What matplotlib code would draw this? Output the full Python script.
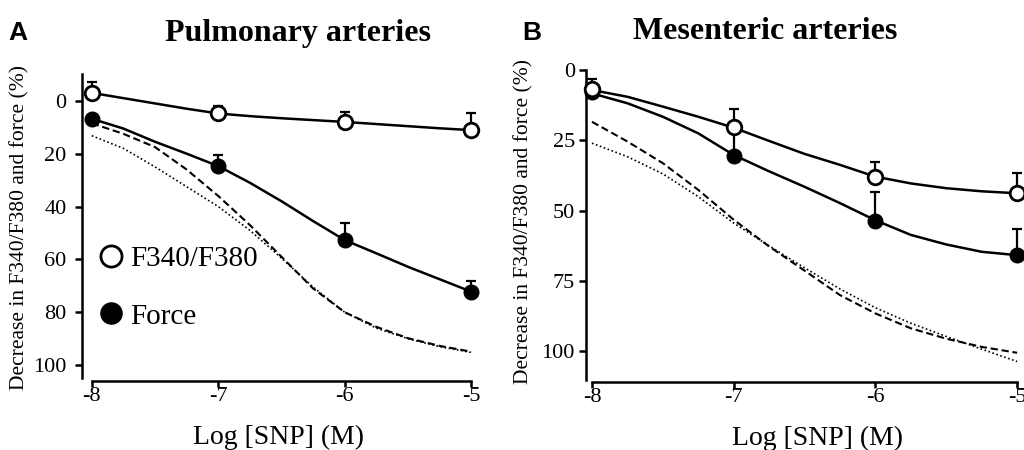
import numpy as np
import matplotlib.pyplot as plt

plt.rcParams['font.family'] = ['Liberation Serif', 'DejaVu Serif']

# measured points (log [SNP])
x_pts = [-8, -7, -6, -5]

# panel A - pulmonary arteries
a_ratio = [-3.0, 4.8, 8.0, 11.1]
a_ratio_err = [4.2, 2.8, 3.8, 6.3]
a_force = [6.8, 24.7, 52.7, 72.2]
a_force_err = [0.0, 4.2, 6.3, 4.2]

# panel B - mesenteric arteries
b_ratio = [6.9, 20.4, 37.9, 43.8]
b_ratio_err = [0.0, 6.4, 5.1, 7.1]
b_force = [7.7, 30.5, 53.6, 65.7]
b_force_err = [4.4, 10.0, 10.4, 9.1]

# fitted curves at 0.25 log-unit steps
x_fit = [-8, -7.75, -7.5, -7.25, -7, -6.75, -6.5, -6.25, -6, -5.75, -5.5, -5.25, -5]
a_ratio_fit = [-3.0, -1.0, 1.0, 3.0, 4.8, 5.8, 6.6, 7.3, 8.0, 8.8, 9.6, 10.4, 11.1]
a_force_fit = [6.8, 10.5, 15.5, 20.0, 24.7, 31.0, 38.0, 45.5, 52.7, 57.7, 62.8, 67.5, 72.2]
a_dash_fit = [8.5, 12.5, 17.5, 26.0, 36.0, 47.0, 59.0, 71.0, 80.0, 85.5, 89.8, 92.7, 94.9]
a_dot_fit = [13.2, 18.0, 25.0, 32.5, 40.0, 49.0, 59.5, 70.5, 80.0, 86.0, 90.0, 93.0, 95.2]

b_ratio_fit = [7.1, 9.5, 13.0, 16.6, 20.5, 25.2, 29.8, 33.7, 37.9, 40.3, 42.0, 43.1, 43.8]
b_force_fit = [8.3, 11.8, 16.6, 22.5, 30.2, 36.0, 41.5, 47.3, 53.4, 58.6, 62.0, 64.6, 65.8]
b_dash_fit = [18.4, 25.4, 33.1, 42.6, 53.2, 62.7, 71.3, 80.0, 86.5, 91.8, 95.5, 98.4, 100.5]
b_dot_fit = [26.0, 30.8, 36.9, 45.0, 54.4, 62.5, 70.3, 77.8, 84.5, 90.0, 94.7, 99.2, 103.6]

a_yticks = [0, 20, 40, 60, 80, 100]
b_yticks = [0, 25, 50, 75, 100]
x_ticks = [-8, -7, -6, -5]
ylabel = 'Decrease in F340/F380 and force (%)'
xlabel = 'Log [SNP] (M)'


def draw_panel(ax, ratio, ratio_err, force, force_err, r_fit, f_fit, d_fit, o_fit):
    ax.plot(x_fit, d_fit, color='black', lw=1.5, ls=(0, (3.5, 1.8)), zorder=2)
    ax.plot(x_fit, o_fit, color='black', lw=1.2, ls=(0, (1, 1.5)), zorder=2)
    ax.plot(x_fit, r_fit, color='black', lw=1.8, zorder=3)
    ax.plot(x_fit, f_fit, color='black', lw=1.8, zorder=3)
    # error bars only drawn upward (axis is inverted)
    ax.errorbar(x_pts, force, yerr=[force_err, np.zeros(4)], fmt='none',
                ecolor='black', elinewidth=1.6, capsize=3.8, capthick=1.6, zorder=4)
    ax.errorbar(x_pts, ratio, yerr=[ratio_err, np.zeros(4)], fmt='none',
                ecolor='black', elinewidth=1.6, capsize=3.8, capthick=1.6, zorder=4)
    ax.plot(x_pts, force, 'o', ms=10.5, mfc='black', mec='black', ls='none',
            clip_on=False, zorder=5, label='Force')
    ax.plot(x_pts, ratio, 'o', ms=10.5, mfc='white', mec='black', mew=2.0, ls='none',
            clip_on=False, zorder=6, label='F340/F380')
    for side in ['top', 'right']:
        ax.spines[side].set_visible(False)
    for side in ['left', 'bottom']:
        ax.spines[side].set_linewidth(1.8)
    ax.tick_params(direction='out', width=1.8, labelsize=16)
    ax.tick_params(axis='x', length=4, pad=0)
    ax.set_xticks(x_ticks)
    ax.set_xticklabels([str(t) for t in x_ticks])
    ax.set_xlabel(xlabel, fontsize=20, labelpad=14)


fig = plt.figure(figsize=(10.24, 4.5), dpi=100)

ax1 = fig.add_axes([0.0801, 0.1533, 0.3838, 0.6844])
draw_panel(ax1, a_ratio, a_ratio_err, a_force, a_force_err,
           a_ratio_fit, a_force_fit, a_dash_fit, a_dot_fit)
ax1.set_xlim(-8.077, -4.97)
ax1.set_ylim(106, -10.5)
ax1.set_yticks(a_yticks)
ax1.tick_params(axis='y', length=5, pad=6)
ax1.spines['left'].set_bounds(104.8, -10)
ax1.spines['bottom'].set_bounds(-8, -5)
ax1.set_ylabel(ylabel, fontsize=15.5, labelpad=3)
h, l = ax1.get_legend_handles_labels()
ax1.legend(h[::-1], l[::-1], loc='upper left', bbox_to_anchor=(0.0, 0.495),
           frameon=False, fontsize=21, markerscale=1.45, handlelength=0.8,
           handletextpad=0.25, labelspacing=1.05, borderaxespad=0.2)
ax1.set_title('Pulmonary arteries', fontsize=23, fontweight='bold', pad=23, x=0.55)

ax2 = fig.add_axes([0.5723, 0.1504, 0.4258, 0.7127])
draw_panel(ax2, b_ratio, b_ratio_err, b_force, b_force_err,
           b_ratio_fit, b_force_fit, b_dash_fit, b_dot_fit)
ax2.set_xlim(-8.042, -4.965)
ax2.set_ylim(111, -3)
ax2.set_yticks(b_yticks)
ax2.tick_params(axis='y', length=5, pad=3)
ax2.spines['left'].set_bounds(110, 0)
ax2.spines['bottom'].set_bounds(-8, -5)
ax2.set_ylabel(ylabel, fontsize=15.5, labelpad=6)
ax2.xaxis.label.set_x(0.53)
ax2.set_title('Mesenteric arteries', fontsize=23, fontweight='bold', pad=16, x=0.41)

fig.text(0.017, 0.927, 'A', fontsize=19, fontweight='bold', family='Liberation Sans',
         ha='center', va='center')
fig.text(0.519, 0.927, 'B', fontsize=19, fontweight='bold', family='Liberation Sans',
         ha='center', va='center')

fig.savefig('out.png', dpi=100)
